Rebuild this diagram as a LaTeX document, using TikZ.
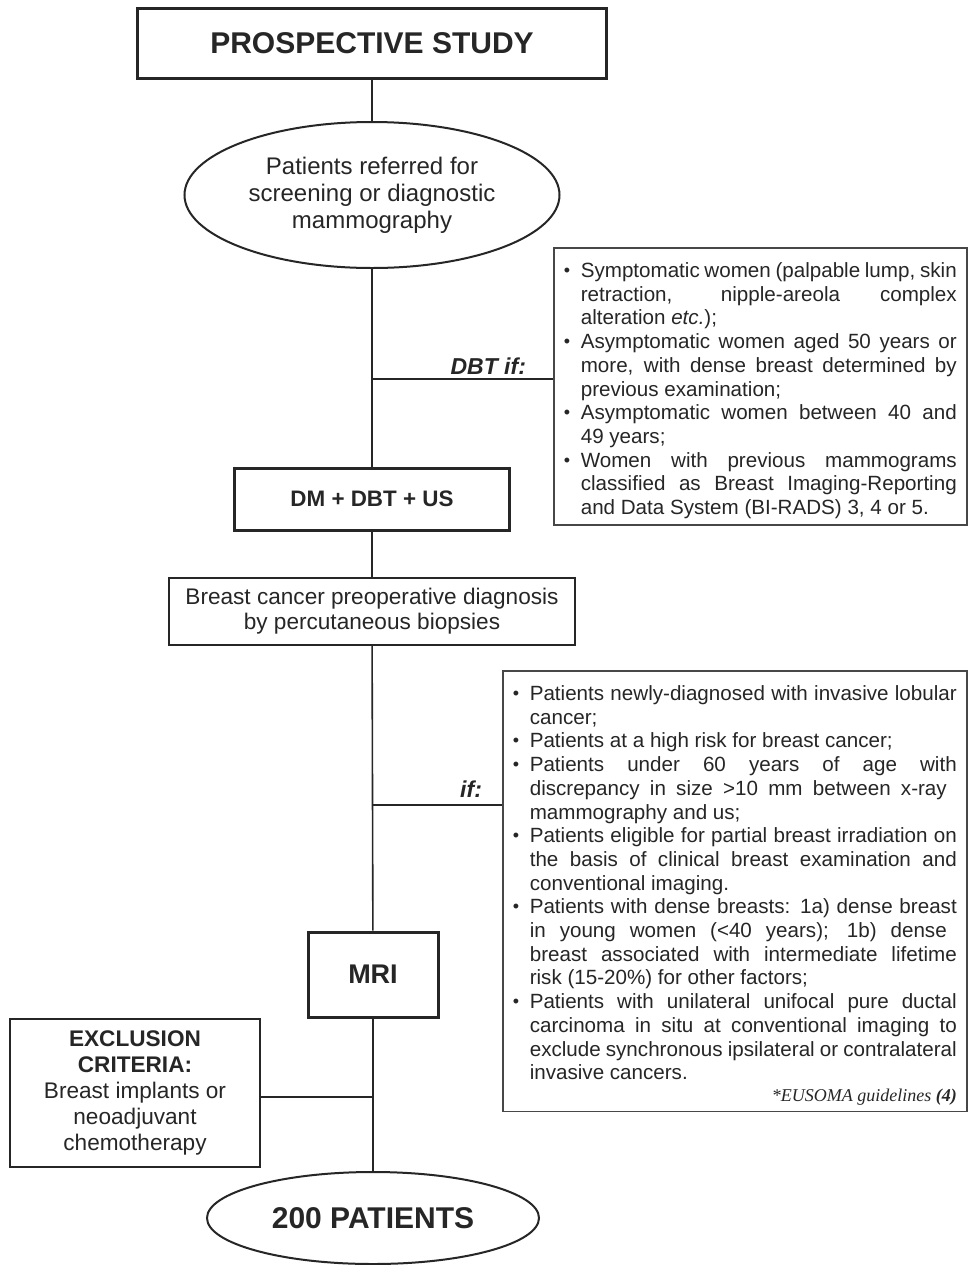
\documentclass[tikz,border=0pt]{standalone}
\usepackage{fontspec}
\setmainfont{Liberation Sans}
\newfontfamily\refserif{Liberation Serif}
\usetikzlibrary{shapes.geometric}
\definecolor{ink}{gray}{0.15}
\tolerance=10000
\hbadness=10000
\hyphenpenalty=10000
% one criterion: bullet with hanging lines
\newcommand{\crit}[1]{\par\noindent\hangindent=8.5pt\hangafter=1\makebox[8.5pt][l]{\raisebox{0.5pt}{\small\textbullet}}#1}
\begin{document}
\begin{tikzpicture}[x=0.5pt,y=-0.5pt,
    headbox/.style={draw=ink,line width=1.5pt,align=center,inner sep=0pt,text=ink},
    stepbox/.style={draw=ink,line width=0.8pt,align=center,inner sep=0pt,text=ink},
    oval/.style={ellipse,draw=ink,line width=1pt,align=center,inner sep=0pt,text=ink},
    critbox/.style={draw=ink!85,line width=0.8pt,anchor=north west,inner xsep=5pt,inner ysep=3pt,text=ink,
      align=justify,font=\fontsize{10.3}{11.85}\selectfont},
    iflabel/.style={anchor=east,text=ink,font=\bfseries\itshape\fontsize{11.5}{13}\selectfont},
    link/.style={draw=ink,line width=0.8pt}]
\useasboundingbox[fill=white] (0,0) rectangle (968,1265);

\node[headbox,minimum width=234.5pt,minimum height=35pt,font=\bfseries\fontsize{15}{18}\selectfont] (study) at (372,43) {PROSPECTIVE STUDY};
\node[oval,minimum width=187.5pt,minimum height=73pt,font=\fontsize{12}{13.5}\selectfont] (referred) at (372,195) {Patients referred for\\screening or diagnostic\\mammography};
\node[headbox,minimum width=137.5pt,minimum height=31pt,font=\bfseries\fontsize{11.2}{13}\selectfont] (dm) at (372,499) {DM + DBT + US};
\node[stepbox,minimum width=203pt,minimum height=33.5pt,font=\fontsize{11.3}{12.5}\selectfont] (biopsy) at (372,611.5) {Breast cancer preoperative diagnosis\\by percutaneous biopsies};
\node[headbox,minimum width=65pt,minimum height=42.5pt,font=\bfseries\fontsize{13.5}{16}\selectfont] (mri) at (373,974.5) {MRI};
\node[stepbox,minimum width=125pt,minimum height=74pt,font=\fontsize{11.3}{13}\selectfont] (excl) at (135,1093) {\textbf{EXCLUSION}\\\textbf{CRITERIA:}\\Breast implants or\\neoadjuvant\\chemotherapy};
\node[oval,minimum width=166pt,minimum height=46pt,font=\bfseries\fontsize{15}{18}\selectfont] (patients) at (373,1218) {200 PATIENTS};

% criteria boxes
\node[critbox,text width=196.5pt] (dbtcrit) at (553,247) {%
\crit{Symptomatic women (palpable lump, skin\linebreak retraction, nipple-areola complex\linebreak alteration \textit{etc.});}
\crit{Asymptomatic women aged 50 years or\linebreak more, with dense breast determined by\linebreak previous examination;}
\crit{Asymptomatic women between 40 and\linebreak 49 years;}
\crit{Women with previous mammograms\linebreak classified as Breast Imaging-Reporting\linebreak and Data System (BI-RADS) 3, 4 or 5.}\par};
\node[critbox,text width=222pt] (mricrit) at (502,670) {%
\crit{Patients newly-diagnosed with invasive lobular\linebreak cancer;}
\crit{Patients at a high risk for breast cancer;}
\crit{Patients under 60 years of age with\linebreak discrepancy in size >10 mm between x-ray\hspace*{5pt}\linebreak mammography and us;}
\crit{Patients eligible for partial breast irradiation on\linebreak the basis of clinical breast examination and\linebreak conventional imaging.}
\crit{Patients with dense breasts: 1a) dense breast\linebreak in young women (<40 years); 1b) dense\hspace*{5pt}\linebreak breast associated with intermediate lifetime\linebreak risk (15-20\%) for other factors;}
\crit{Patients with unilateral unifocal pure ductal\linebreak carcinoma in situ at conventional imaging to\linebreak exclude synchronous ipsilateral or contralateral\linebreak invasive cancers.}\par
{\raggedleft\refserif\itshape\fontsize{9}{11}\selectfont *EUSOMA guidelines \textbf{(4)}\par}};

\node[iflabel] (dbtif) at (533,366) {DBT if:};
\node[iflabel] (mriif) at (489,789) {if:};

\coordinate (j1) at (372,379);
\coordinate (j2) at (372,805);
\coordinate (j3) at (373,1097);

\draw[link] (study) -- (referred);
\draw[link] (referred) -- (dm);
\draw[link] (dm) -- (biopsy);
\draw[link] (biopsy) -- (mri);
\draw[link] (mri) -- (patients);
\draw[link] (j1) -- (j1 -| dbtcrit.west);
\draw[link] (j2) -- (j2 -| mricrit.west);
\draw[link] (excl.east |- j3) -- (j3);
\end{tikzpicture}
\end{document}
